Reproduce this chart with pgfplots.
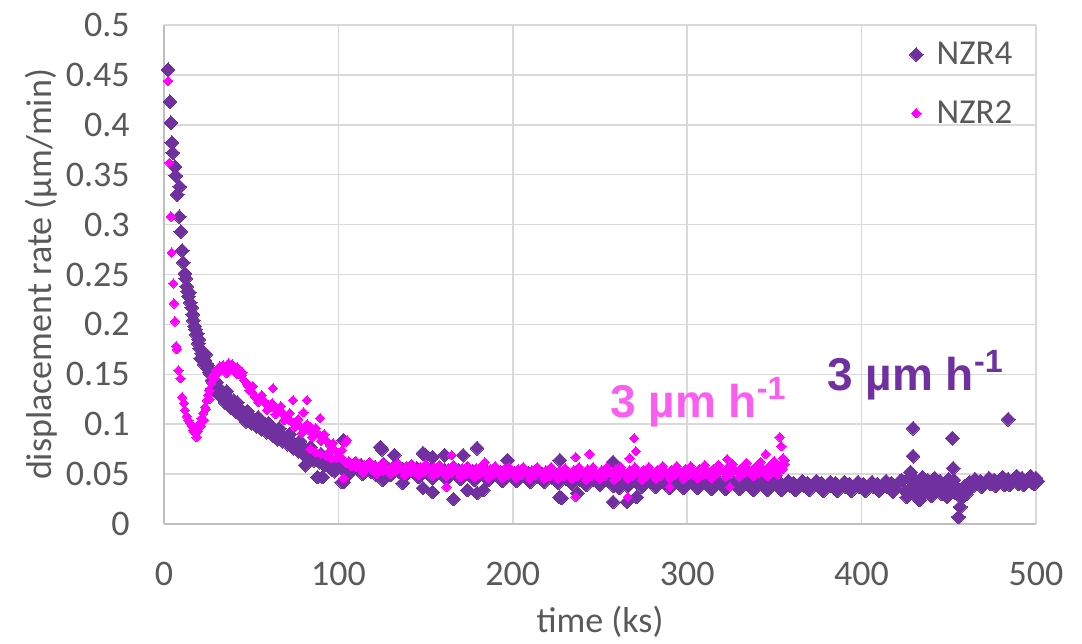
\documentclass[border=0pt]{standalone}
\usepackage{fontspec}
\setmainfont{Carlito}
\newfontfamily\annotfont{Liberation Sans}
\usepackage{pgfplots}
\pgfplotsset{compat=1.18}
\definecolor{nzrf}{HTML}{7030A0}
\definecolor{nzrt}{HTML}{FF00FF}
\definecolor{annm}{HTML}{F95EF0}
\definecolor{gridc}{HTML}{D9D9D9}
\definecolor{axisc}{HTML}{BFBFBF}
\definecolor{labc}{HTML}{595959}
\pgfplotsset{mylegimg/.style={legend image code/.code={\draw[##1] plot coordinates {(0cm,0cm)}; \path (-0.1cm,0cm) (0.28cm,0cm);}}}
\begin{document}
\begin{tikzpicture}
\begin{axis}[
  scale only axis, width=436pt, height=249.5pt,
  xmin=0, xmax=500, ymin=0, ymax=0.5,
  clip=false,
  xtick={0,100,200,300,400,500},
  xticklabels={0,100,200,300,400,500},
  ytick={0,0.05,0.1,0.15,0.2,0.25,0.3,0.35,0.4,0.45,0.5},
  yticklabels={0,0.05,0.1,0.15,0.2,0.25,0.3,0.35,0.4,0.45,0.5},
  /pgf/number format/assume math mode=true,
  grid=major, grid style={draw=gridc, line width=0.75pt},
  axis x line*=bottom, axis y line*=left,
  axis line style={draw=axisc, line width=0.75pt},
  major tick length=0pt,
  tick label style={font=\fontsize{18}{21}\selectfont, text=labc},
  yticklabel style={anchor=east, inner sep=0pt, xshift=-17pt},
  xticklabel style={anchor=north, inner sep=0pt, yshift=-19pt},
  xlabel={time (ks)}, ylabel={displacement rate (µm/min)},
  label style={font=\fontsize{18}{21}\selectfont, text=labc},
  xlabel style={at={(axis description cs:0.5,-0.197)}, anchor=center, inner sep=0pt},
  ylabel style={at={(axis description cs:-0.141,0.5)}, anchor=center, inner sep=0pt},
  legend style={at={(rel axis cs:0.978,0.975)}, anchor=north east, draw=none, fill=none,
    font=\fontsize{17.5}{21}\selectfont, text=labc, row sep=12.5pt, inner sep=0pt},
  legend cell align=left,
]
\addplot[only marks, mylegimg, mark=square*, mark size=2.45pt, mark options={rotate=45, fill=nzrf, draw=nzrf, line width=0pt}] coordinates {
(2.3,0.455)(3.4,0.423)(4.0,0.402)(4.5,0.382)(5.0,0.372)(6.3,0.358)(6.7,0.349)(9.0,0.338)(7.6,0.330)
(8.8,0.308)(9.7,0.293)(10.4,0.274)(11,0.262)(12,0.251)(12.5,0.246)(13,0.238)(13.5,0.233)(14,0.228)
(15,0.222)(16,0.217)(16.8,0.204)(17.5,0.198)(18,0.195)(19,0.191)(19.6,0.181)(20.5,0.176)(21.6,0.171)
(22.5,0.167)(23.5,0.164)(24.2,0.161)(25,0.159)(25.5,0.156)(26,0.152)(27.5,0.144)(28.5,0.141)(29.5,0.139)
(31,0.137)(32,0.134)(33.5,0.132)(35,0.129)(36,0.127)(37.5,0.125)(39,0.122)(40.5,0.120)(42,0.117)
(43.5,0.115)(45,0.113)(46.5,0.111)(48,0.108)(49,0.107)(50.5,0.106)(52,0.104)(53.5,0.103)(55,0.102)
(57,0.101)(58.5,0.098)(60,0.097)(62,0.095)(63.5,0.094)(65,0.092)(67,0.090)(68.5,0.088)(70,0.087)
(72,0.084)(73.5,0.082)(75,0.080)(76.5,0.079)(78,0.077)(80,0.075)(82,0.074)(84,0.071)(86,0.069)
(88,0.067)(90,0.065)(91,0.064)(93,0.062)(95,0.061)(97,0.059)(99,0.057)
(14.5,0.232)(16.5,0.210)(18.5,0.190)(21,0.166)(23,0.160)(26.5,0.150)(28,0.136)(30,0.132)(32.5,0.128)
(35,0.122)(38,0.117)(41,0.113)(44,0.109)(47,0.103)(50,0.101)(53,0.098)(56,0.095)(59,0.092)(62,0.089)
(65,0.085)(68,0.083)(71,0.080)(74,0.076)(77,0.073)(80,0.070)(83,0.067)(86,0.064)(89,0.062)(92,0.059)
(96,0.055)(98,0.053)
(20,0.185)(24,0.170)(30,0.142)(36,0.133)(42,0.122)(48,0.113)(54,0.107)(60,0.101)(66,0.096)(72,0.090)
(78,0.083)(84,0.077)(90,0.070)(96,0.064)
(33,0.128)(40,0.124)(47,0.107)(55,0.098)(62,0.091)(70,0.083)(77,0.081)(85,0.066)(92,0.060)
(81,0.059)(88,0.047)(91,0.047)(95,0.057)(102,0.042)
(101,0.059)(103,0.054)(105,0.056)(107,0.052)(109,0.058)(111,0.055)(113,0.059)(115,0.053)(117,0.056)
(119,0.052)(121,0.057)(123,0.054)(125,0.058)(127,0.051)(129,0.055)(131,0.053)(133,0.057)(135,0.052)
(137,0.055)(139,0.050)(141,0.054)(143,0.052)(145,0.056)(147,0.050)(149,0.053)(151,0.051)(153,0.055)
(155,0.049)(157,0.053)(159,0.050)(161,0.054)(163,0.048)(165,0.052)(167,0.050)(169,0.054)(171,0.048)
(173,0.052)(175,0.049)(177,0.053)(179,0.047)(181,0.051)(183,0.049)(185,0.053)(187,0.047)(189,0.050)
(191,0.048)(193,0.052)(195,0.046)(197,0.050)(199,0.048)(201,0.051)(203,0.046)(205,0.049)(207,0.047)
(209,0.051)(211,0.045)(213,0.049)(215,0.047)(217,0.050)(219,0.045)(221,0.048)(223,0.046)(225,0.049)
(227,0.044)(229,0.047)(231,0.045)(233,0.048)(235,0.043)(237,0.047)(239,0.044)(241,0.047)(243,0.042)
(245,0.046)(247,0.044)(249,0.047)(251,0.042)(253,0.045)(255,0.043)(257,0.046)(259,0.041)(261,0.045)
(263,0.043)(265,0.046)(267,0.041)(269,0.044)(271,0.042)(273,0.045)(275,0.040)(277,0.044)(279,0.042)
(281,0.045)(283,0.040)(285,0.043)(287,0.041)(289,0.044)(291,0.040)(293,0.043)(295,0.041)(297,0.044)
(299,0.039)(301,0.043)(303,0.041)(305,0.044)(307,0.039)(309,0.042)(311,0.040)(313,0.043)(315,0.039)
(317,0.042)(319,0.040)(321,0.043)(323,0.038)(325,0.042)(327,0.040)(329,0.043)(331,0.038)(333,0.041)
(335,0.039)(337,0.042)(339,0.038)(341,0.041)(343,0.039)(345,0.042)(347,0.037)(349,0.041)(351,0.039)
(353,0.042)(355,0.037)(357,0.040)(359,0.038)(361,0.041)(363,0.037)(365,0.040)(367,0.038)(369,0.041)
(371,0.037)(373,0.040)(375,0.038)(377,0.041)(379,0.036)(381,0.040)(383,0.038)(385,0.041)(387,0.036)
(389,0.039)(391,0.037)(393,0.040)(395,0.036)(397,0.039)(399,0.037)(401,0.040)(403,0.036)(405,0.039)
(407,0.037)(409,0.040)(411,0.035)(413,0.039)(415,0.037)(417,0.041)(419,0.035)(421,0.040)(423,0.044)
(425,0.033)(427,0.046)(428,0.052)(429,0.038)(430,0.030)(431,0.044)(432,0.036)(433,0.024)(434,0.041)
(435,0.047)(436,0.031)(437,0.038)(438,0.044)(439,0.034)(440,0.028)(441,0.040)(442,0.046)(443,0.033)
(444,0.038)(445,0.043)(446,0.030)(447,0.036)(448,0.041)(449,0.027)(450,0.045)(451,0.033)(452,0.039)
(453,0.044)(454,0.031)(455,0.036)(455.5,0.007)(456.5,0.017)(457.5,0.026)(458,0.034)(459,0.038)
(460,0.030)(461,0.040)(462,0.042)(464,0.038)(466,0.041)(468,0.043)(470,0.039)(472,0.042)(474,0.040)
(476,0.044)(478,0.041)(480,0.043)(482,0.039)(484,0.045)(486,0.041)(488,0.044)(490,0.040)(492,0.046)
(494,0.042)(496,0.045)(498,0.041)(500,0.046)(501,0.043)
(102,0.062)(106,0.050)(110,0.061)(114,0.050)(118,0.060)(122,0.049)(126,0.060)(130,0.049)(134,0.059)
(138,0.048)(142,0.058)(146,0.047)(150,0.057)(154,0.046)(158,0.056)(162,0.045)(166,0.055)(170,0.045)
(174,0.055)(178,0.044)(182,0.054)(186,0.044)(190,0.053)(194,0.043)(198,0.053)(202,0.043)(206,0.052)
(210,0.042)(214,0.052)(218,0.042)(222,0.051)(226,0.041)(230,0.050)(234,0.040)(238,0.049)(242,0.039)
(246,0.048)(250,0.039)(254,0.048)(258,0.038)(262,0.047)(266,0.038)(270,0.047)(274,0.037)(278,0.046)
(282,0.037)(286,0.046)(290,0.036)(294,0.045)(298,0.036)(302,0.045)(306,0.036)(310,0.045)(314,0.035)
(318,0.044)(322,0.035)(326,0.044)(330,0.035)(334,0.044)(338,0.034)(342,0.044)(346,0.034)(350,0.043)
(354,0.034)(358,0.043)(362,0.034)(366,0.043)(370,0.034)(374,0.043)(378,0.033)(382,0.042)(386,0.033)
(390,0.042)(394,0.033)(398,0.042)(402,0.033)(406,0.042)(410,0.033)(414,0.043)(418,0.032)(422,0.043)
(465,0.045)(469,0.037)(473,0.046)(477,0.038)(481,0.047)(485,0.039)(489,0.048)(493,0.039)(497,0.048)(499,0.040)
(103,0.084)(124,0.077)(125,0.075)(132,0.069)(125.5,0.044)(137,0.041)(150,0.069)(148.5,0.036)
(154,0.032)(161,0.069)(166,0.025)(171.5,0.069)(179.5,0.076)(174,0.034)(179.5,0.031)(183,0.034)
(197,0.064)(227,0.064)(227,0.027)(103,0.042)(237,0.031)(228,0.026)(257.5,0.022)(265.5,0.022)
(271,0.027)(257.5,0.062)(261,0.036)(148.5,0.071)(154,0.067)
(429.5,0.096)(429.5,0.068)(452,0.086)(452.5,0.056)(484,0.105)(428,0.052)(433.5,0.024)(449,0.027)(426,0.027)
};
\addlegendentry{NZR4}
\addplot[only marks, mylegimg, mark=square*, mark size=1.65pt, mark options={rotate=45, fill=nzrt, draw=nzrt, line width=0pt}] coordinates {
(2.4,0.444)(3.0,0.362)(4.0,0.308)(4.4,0.272)(5.3,0.241)(5.7,0.221)(6.3,0.203)(7,0.178)(7.4,0.175)
(8.3,0.154)(9.5,0.146)(10.4,0.127)(11.5,0.121)(12,0.114)(13,0.108)(14,0.104)(15,0.101)(16,0.098)
(16.8,0.094)(17.5,0.092)(18.7,0.087)(19.5,0.093)(20.6,0.101)(21.5,0.106)(22.5,0.111)(23.5,0.117)
(24.5,0.124)(25.3,0.129)(26,0.134)(27,0.141)(27.5,0.147)(28.5,0.150)(30,0.154)(31.5,0.152)(33,0.157)
(34,0.159)(35.5,0.156)(37,0.161)(38.5,0.155)(40,0.158)(41,0.152)(42,0.157)(43,0.151)(44.5,0.149)
(46,0.144)(47.5,0.141)(49,0.134)(50.5,0.132)(52,0.128)(53,0.127)(55,0.125)(57,0.124)(58.5,0.120)
(60,0.118)(61,0.117)(62.5,0.136)(63.5,0.116)(65,0.115)(66.5,0.114)(68,0.111)(70.5,0.107)(72,0.104)
(74,0.101)(74,0.124)(76,0.100)(78,0.098)(80,0.112)(81,0.096)(82,0.124)(83,0.094)(84,0.097)(86,0.092)
(88,0.091)(89.5,0.106)(90,0.088)(91.5,0.086)(93,0.084)(95,0.079)(96.5,0.076)(98,0.074)
(29,0.146)(32,0.158)(36,0.151)(39,0.160)(42,0.150)(45,0.152)(48,0.139)(51,0.138)(54,0.122)(56,0.129)
(59,0.114)(62,0.121)(64,0.110)(67,0.118)(69,0.104)(72,0.111)(75,0.097)(77,0.105)(79,0.091)(82,0.100)
(85,0.087)(87,0.096)(90,0.083)(92,0.090)(95,0.073)(97,0.081)(100,0.067)(102,0.074)
(21,0.098)(23,0.104)(19,0.098)(24,0.115)(26,0.125)
(84,0.075)(87,0.072)(90,0.070)(93,0.068)(96,0.066)(99,0.066)(104,0.082)(105,0.084)(103,0.046)
(100,0.071)(101.5,0.066)(103,0.064)(104.5,0.061)(106,0.063)(107.5,0.058)(109,0.061)(110.5,0.057)
(112,0.060)(113.5,0.055)(115,0.059)(116.5,0.056)(118,0.060)(119.5,0.054)(121,0.058)(122.5,0.055)
(124,0.059)(125.5,0.053)(127,0.057)(129,0.054)(131,0.058)(133,0.053)(135,0.057)(137,0.054)(139,0.058)
(141,0.052)(143,0.056)(145,0.053)(147,0.057)(149,0.052)(151,0.056)(153,0.053)(155,0.057)(157,0.051)
(159,0.055)(161,0.052)(163,0.056)(165,0.051)(167,0.055)(169,0.052)(171,0.056)(173,0.050)(175,0.054)
(177,0.052)(179,0.056)(181,0.050)(183,0.054)(185,0.051)(187,0.055)(189,0.050)(191,0.054)(193,0.051)
(195,0.055)(197,0.049)(199,0.053)(201,0.051)(203,0.055)(205,0.049)(207,0.053)(209,0.050)(211,0.054)
(213,0.049)(215,0.053)(217,0.050)(219,0.054)(221,0.048)(223,0.052)(225,0.050)(227,0.054)(229,0.048)
(231,0.052)(233,0.050)(235,0.054)(237,0.048)(239,0.052)(241,0.050)(243,0.055)(245,0.048)(247,0.052)
(249,0.050)(251,0.054)(253,0.048)(255,0.052)(257,0.050)(259,0.055)(261,0.048)(263,0.053)(265,0.050)
(267,0.054)(269,0.048)(271,0.052)(273,0.050)(275,0.054)(277,0.048)(279,0.052)(281,0.050)(283,0.054)
(285,0.048)(287,0.053)(289,0.050)(291,0.054)(293,0.049)(295,0.053)(297,0.050)(299,0.055)(301,0.049)
(303,0.053)(305,0.051)(307,0.055)(309,0.049)(311,0.054)(313,0.051)(315,0.055)(317,0.050)(319,0.054)
(321,0.052)(323,0.056)(325,0.050)(327,0.055)(329,0.052)(331,0.056)(333,0.051)(335,0.055)(337,0.053)
(339,0.057)(341,0.051)(343,0.056)(345,0.053)(347,0.058)(349,0.052)(351,0.057)(353,0.054)(354,0.059)
(355,0.055)(356,0.060)
(110,0.063)(114,0.051)(118,0.062)(122,0.050)(126,0.061)(130,0.050)(134,0.061)(138,0.049)(142,0.060)
(146,0.049)(150,0.060)(154,0.048)(158,0.059)(162,0.048)(166,0.059)(170,0.047)(174,0.058)(178,0.047)
(182,0.058)(186,0.046)(190,0.058)(194,0.046)(198,0.057)(202,0.046)(206,0.057)(210,0.045)(214,0.057)
(218,0.045)(222,0.057)(226,0.045)(230,0.056)(234,0.045)(238,0.057)(242,0.044)(246,0.057)(250,0.045)
(254,0.057)(258,0.044)(262,0.057)(266,0.045)(270,0.057)(274,0.044)(278,0.057)(282,0.045)(286,0.058)
(290,0.045)(294,0.058)(298,0.045)(302,0.058)(306,0.046)(310,0.059)(314,0.046)(318,0.059)(322,0.047)
(326,0.060)(330,0.047)(334,0.061)(338,0.048)(342,0.062)(346,0.048)(350,0.063)(352,0.049)(356,0.064)
(269.6,0.086)(270.6,0.073)(267,0.066)(353,0.087)(354,0.078)(355,0.066)(345,0.070)(323,0.065)(244,0.070)
(236,0.067)(236,0.027)(266,0.027)(290,0.037)(324.5,0.037)(165,0.069)(162,0.037)(184,0.062)
};
\addlegendentry{NZR2}
\node[anchor=base west, font=\annotfont\bfseries\fontsize{23}{27}\selectfont, text=annm, inner sep=0pt] at (axis cs:255.7,0.107) {3 µm h\textsuperscript{-1}};
\node[anchor=base west, font=\annotfont\bfseries\fontsize{23}{27}\selectfont, text=nzrf, inner sep=0pt] at (axis cs:380.2,0.134) {3 µm h\textsuperscript{-1}};
\coordinate (BL) at (rel axis cs:-0.1881,-0.2405);
\coordinate (TR) at (rel axis cs:1.0528,1.0501);
\end{axis}
\pgfresetboundingbox
\path[use as bounding box] (BL) rectangle (TR);
\end{tikzpicture}
\end{document}
